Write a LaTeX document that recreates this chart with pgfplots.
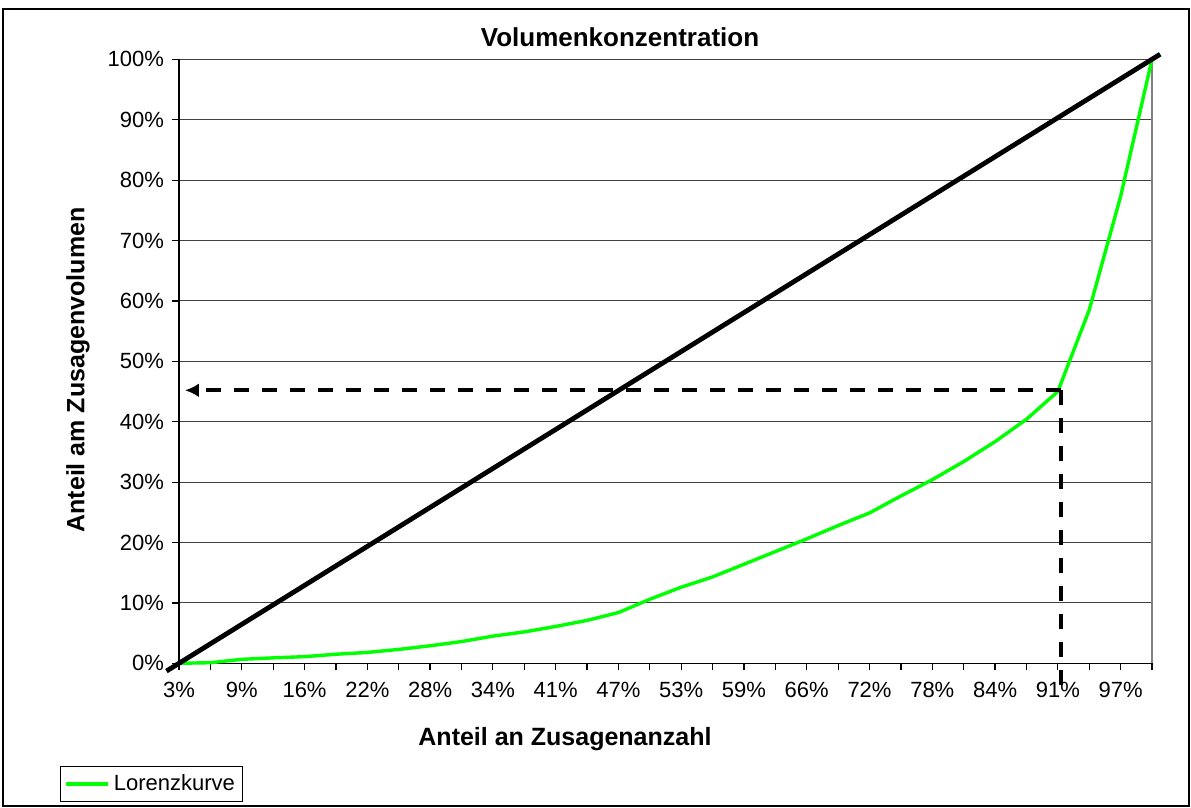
\documentclass[border=0pt]{standalone}
\usepackage{fontspec}
\setmainfont{Liberation Sans}
\usepackage{pgfplots}
\pgfplotsset{compat=1.18}
\usetikzlibrary{arrows.meta}
\definecolor{lgreen}{RGB}{0,255,0}
\begin{document}
\begin{tikzpicture}
\path[use as bounding box] (0,0) rectangle (595.5pt,-404pt);
\draw[black, line width=0.7pt] (1.5pt,-4.5pt) rectangle (594.5pt,-403pt);
\begin{axis}[
  at={(89.5pt,-331.65pt)}, anchor=south west,
  scale only axis, width=486.5pt, height=302pt,
  xmin=1, xmax=32, ymin=0, ymax=100,
  clip=false,
  axis x line*=bottom, axis y line*=left,
  axis line style={black, line width=0.6pt, -},
  xtick={1,...,32},
  xticklabels={3\%,,9\%,,16\%,,22\%,,28\%,,34\%,,41\%,,47\%,,53\%,,59\%,,66\%,,72\%,,78\%,,84\%,,91\%,,97\%,},
  ytick={0,10,...,100},
  yticklabels={0\%,10\%,20\%,30\%,40\%,50\%,60\%,70\%,80\%,90\%,100\%},
  tick align=outside, major tick length=3.5pt,
  tick style={black, line width=0.6pt},
  ymajorgrids, grid style={black!75, line width=0.5pt},
  ticklabel style={font=\fontsize{11}{13}\selectfont},
  xticklabel style={yshift=-2.5pt},
  yticklabel style={xshift=-0.5pt},
  legend style={at={(-0.1223,-0.2296)}, anchor=south west, draw=black, line width=0.5pt,
    font=\fontsize{11}{13}\selectfont, inner sep=2pt},
  legend cell align=left,
  legend image code/.code={\draw[#1] (0pt,0pt) -- (21pt,0pt);},
]
\draw[gray, line width=0.6pt] (rel axis cs:1,0) -- (rel axis cs:1,1);
\addplot[lgreen, line width=1.7pt] coordinates {
(1,0) (2,0.1) (3,0.66) (4,0.9) (5,1.1) (6,1.5) (7,1.8) (8,2.3) (9,2.9) (10,3.6)
(11,4.5) (12,5.2) (13,6.1) (14,7.1) (15,8.4) (16,10.6) (17,12.6) (18,14.3) (19,16.4) (20,18.5)
(21,20.6) (22,22.8) (23,24.9) (24,27.7) (25,30.4) (26,33.4) (27,36.7) (28,40.4) (29,45.0)
(30,58.5) (31,77.3) (32,100)};
\addlegendentry{Lorenzkurve}
\addplot[black, line width=2.4pt, forget plot] coordinates {(0.6,-1.29) (32.26,100.84)};
\addplot[black, line width=2pt, dash pattern=on 7.5pt off 6.5pt, -{Latex[length=7pt,width=7pt]}, forget plot]
  coordinates {(29.1,45.2) (1.19,45.2)};
\addplot[black, line width=2pt, dash pattern=on 7.5pt off 6.5pt, forget plot]
  coordinates {(29.1,45.2) (29.1,-3.6)};
\end{axis}
\begin{scope}[x=0.5pt, y=-0.5pt]
\node[font=\bfseries\fontsize{13}{15}\selectfont] at (620,37) {Volumenkonzentration};
\node[font=\bfseries\fontsize{12.5}{15}\selectfont] at (565,739) {Anteil an Zusagenanzahl};
\node[font=\bfseries\fontsize{12.5}{15}\selectfont, rotate=90] at (78,370) {Anteil am Zusagenvolumen};
\end{scope}
\end{tikzpicture}
\end{document}
